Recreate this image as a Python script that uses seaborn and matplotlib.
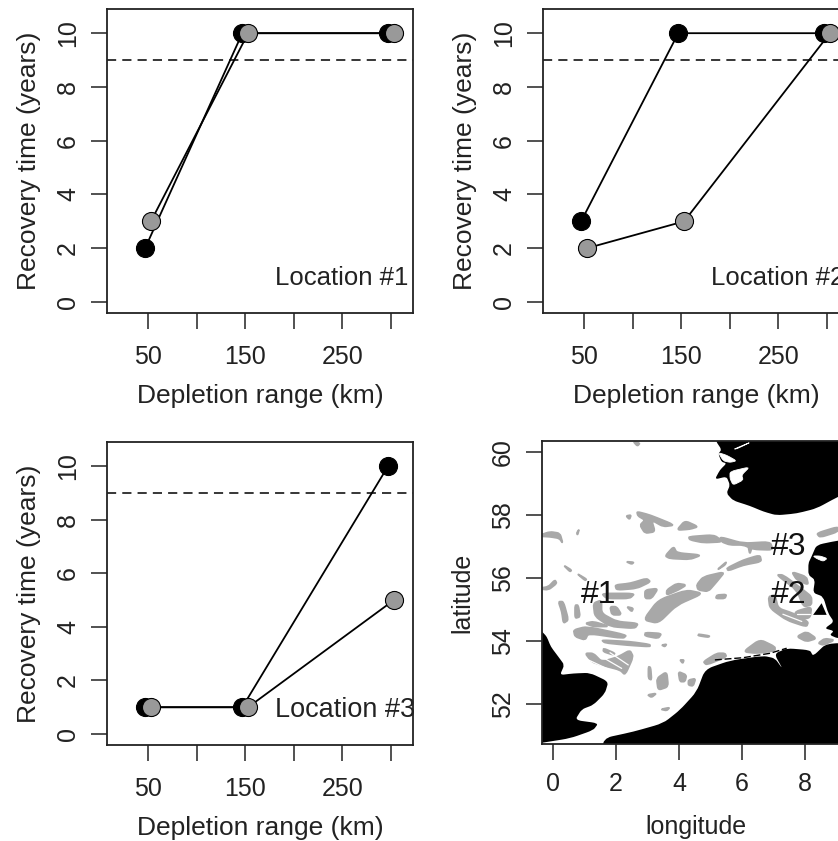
import matplotlib
matplotlib.use("Agg")
import matplotlib.pyplot as plt
from matplotlib.path import Path
from matplotlib.patches import PathPatch
import seaborn as sns

sns.set_style("white")
plt.rcParams['font.family'] = ['Liberation Sans', 'DejaVu Sans']

# recovery time per location, black = one run, grey = the other
x_black = [47, 147, 297]
x_grey = [53, 153, 303]
loc1_black = [2, 10, 10]
loc1_grey = [3, 10, 10]
loc2_black = [3, 10, 10]
loc2_grey = [2, 3, 10]
loc3_black = [1, 1, 10]
loc3_grey = [1, 1, 5]
threshold = 9
x_ticks = [50, 100, 150, 200, 250, 300]
x_tick_labels = ['50', '', '150', '', '250', '']
y_ticks = [0, 2, 4, 6, 8, 10]
lon_ticks = [0, 2, 4, 6, 8]
lat_ticks = [52, 54, 56, 58, 60]

norway = [(5.10, 61.00), (5.17, 60.35), (5.35, 60.08), (5.25, 59.94), (5.35, 59.69), (5.51, 59.64), (5.30, 59.43),
          (5.14, 59.13), (5.51, 59.22), (5.62, 58.95), (5.51, 58.69), (5.72, 58.46), (6.25, 58.29),
          (6.68, 58.11), (7.10, 57.99), (7.74, 58.05), (8.37, 58.21), (9.05, 58.58), (10.0, 59.00),
          (10.0, 61.00)]
uk = [(-1.00, 55.00), (-0.35, 54.30), (-0.20, 54.14), (-0.07, 53.82), (0.17, 53.50), (0.36, 53.24), (0.22, 52.92),
      (0.65, 52.97), (1.17, 52.99), (1.76, 52.71), (1.65, 52.34), (1.28, 51.97), (0.91, 51.83),
      (0.70, 51.49), (1.44, 51.39), (1.28, 51.17), (0.54, 50.91), (-0.35, 50.77), (-1.00, 50.66)]
continent = [(1.54, 50.00), (1.58, 50.91), (2.55, 51.12), (3.50, 51.39), (4.03, 51.81), (4.56, 52.39),
             (4.83, 53.10), (5.62, 53.38), (6.68, 53.53), (7.05, 53.45), (7.30, 53.10), (7.03, 53.59),
             (7.42, 53.77), (8.16, 53.71), (8.26, 53.52), (8.69, 53.93), (10.0, 53.93), (10.0, 50.00)]
denmark = [(8.21, 56.68), (8.37, 57.05), (9.05, 57.19), (10.0, 57.30), (10.0, 54.10), (9.05, 54.08),
           (8.79, 54.19), (8.92, 54.32), (8.63, 54.40), (8.92, 54.61), (8.74, 54.88), (8.58, 55.41),
           (8.26, 55.53), (8.32, 55.94), (8.11, 56.10), (8.11, 56.47)]
island = [(8.26, 54.83), (8.53, 55.20), (8.69, 54.83)]
land = [norway, uk, continent, denmark]

# fjords and inlets cut out of the land
inlets = [[(5.25, 59.98), (5.51, 59.90), (5.83, 59.72), (5.62, 59.67), (5.41, 59.72)],
          [(5.62, 59.38), (6.25, 59.53), (5.99, 59.27), (6.04, 59.11), (5.72, 58.95), (5.62, 59.16)],
          [(5.72, 60.08), (6.31, 60.33), (5.88, 60.12)],
          [(8.26, 56.70), (8.48, 56.70), (8.71, 56.62), (8.58, 56.53), (8.37, 56.62)]]

# sandbank patches
banks = [[(2.55, 60.33), (2.76, 60.28), (2.68, 60.19)],
         [(2.66, 58.11), (3.08, 58.00), (3.87, 57.68), (3.50, 57.63), (3.13, 57.84), (3.24, 57.47),
          (2.92, 57.42), (2.76, 57.68), (2.92, 57.84), (2.70, 57.97)],
         [(2.32, 57.97), (2.48, 58.00), (2.43, 57.86)],
         [(3.93, 57.52), (4.19, 57.82), (4.61, 57.63), (4.35, 57.55)],
         [(-0.50, 57.33), (-0.10, 57.47), (0.22, 57.42), (0.31, 57.10), (0.20, 57.26), (-0.10, 57.31)],
         [(0.75, 57.42), (0.83, 57.55), (0.78, 57.37)],
         [(4.30, 57.31), (5.11, 57.37), (5.41, 57.15), (4.78, 57.12), (4.35, 57.21)],
         [(5.30, 57.31), (6.04, 57.10), (6.89, 57.15), (6.99, 56.89), (6.36, 56.91), (6.04, 57.05),
          (5.62, 57.05), (5.35, 57.15)],
         [(3.56, 56.70), (3.83, 57.00), (3.93, 56.80), (4.72, 56.73), (4.35, 56.59), (3.71, 56.62)],
         [(2.32, 56.52), (2.57, 56.50), (2.50, 56.44)],
         [(2.87, 54.67), (3.34, 55.30), (4.24, 55.62), (4.77, 55.51), (3.93, 55.14), (3.34, 54.56)],
         [(4.56, 55.78), (4.77, 56.04), (5.46, 56.20), (5.20, 55.88), (4.93, 55.57), (4.61, 55.62)],
         [(3.61, 55.62), (3.93, 55.83), (4.24, 55.78), (3.98, 55.62), (3.61, 55.46)],
         [(2.92, 55.62), (3.34, 55.67), (3.13, 55.35), (2.92, 55.35)],
         [(5.20, 56.25), (5.51, 56.52), (5.46, 56.41)],
         [(5.51, 56.31), (6.04, 56.57), (6.57, 56.73), (6.62, 56.52), (6.04, 56.41), (5.57, 56.23)],
         [(1.97, 55.78), (2.45, 55.83), (2.97, 55.99), (3.10, 55.88), (2.66, 55.67), (2.02, 55.62)],
         [(1.54, 55.51), (2.60, 55.51), (2.44, 55.35), (1.70, 55.35)],
         [(1.28, 55.20), (1.54, 55.30), (1.54, 54.88), (2.02, 54.62), (2.71, 54.56), (2.60, 54.40),
          (1.81, 54.46), (1.33, 54.78)],
         [(1.81, 55.09), (2.02, 55.09), (2.18, 54.83), (1.87, 54.83)],
         [(1.02, 54.56), (1.28, 54.62), (1.81, 54.46), (1.28, 54.46)],
         [(0.65, 54.35), (1.07, 54.46), (2.34, 54.19), (2.23, 54.08), (1.12, 54.24), (1.02, 54.03),
          (0.70, 54.14)],
         [(1.54, 54.03), (2.44, 53.98), (3.08, 53.89), (3.08, 53.82), (2.34, 53.87), (1.65, 53.94)],
         [(2.92, 54.27), (3.45, 54.24), (3.34, 54.08), (2.92, 54.16)],
         [(1.60, 53.77), (1.97, 53.61), (1.91, 53.56), (1.60, 53.66)],
         [(1.02, 53.61), (1.28, 53.61), (1.55, 53.34), (2.07, 53.50), (2.44, 53.71), (2.55, 53.50),
          (2.29, 52.92), (2.13, 53.08), (1.55, 53.23), (1.23, 53.34)],
         [(4.61, 54.22), (4.98, 54.16), (4.93, 54.12), (4.61, 54.17)],
         [(3.45, 53.87), (3.61, 53.90), (3.55, 53.82)],
         [(0.33, 56.41), (0.59, 56.25), (0.54, 56.20)],
         [(0.75, 56.15), (1.07, 55.96), (1.02, 55.92)],
         [(-0.50, 55.67), (-0.15, 55.72), (0.06, 55.94), (0.12, 55.83), (-0.15, 55.62)],
         [(0.17, 55.25), (0.33, 55.25), (0.49, 54.67), (0.33, 54.56), (0.28, 54.93)],
         [(0.70, 55.14), (0.80, 55.14), (0.86, 54.77), (0.70, 54.72)],
         [(2.34, 55.09), (2.55, 55.04), (2.50, 54.93)],
         [(3.03, 53.19), (3.10, 53.16), (3.13, 52.76), (3.03, 52.81)],
         [(3.29, 52.81), (3.61, 53.03), (3.66, 52.55), (3.34, 52.44)],
         [(3.98, 53.03), (4.24, 52.92), (4.19, 52.71), (4.03, 52.71)],
         [(4.30, 52.76), (4.53, 52.81), (4.45, 52.57), (4.30, 52.60)],
         [(4.03, 53.40), (4.16, 53.40), (4.12, 53.29)],
         [(3.00, 52.29), (3.29, 52.34), (3.13, 52.21)],
         [(3.42, 51.83), (3.71, 51.89), (3.61, 51.79)],
         [(4.77, 53.34), (5.20, 53.61), (5.46, 53.61), (5.51, 53.50), (4.88, 53.24)],
         [(6.04, 53.66), (6.57, 54.05), (7.05, 53.82), (7.05, 53.69), (6.47, 53.61)],
         [(7.74, 54.14), (8.05, 54.30), (8.37, 54.08), (8.05, 53.98)],
         [(8.42, 53.93), (8.63, 54.08), (8.95, 54.03), (8.58, 53.87)],
         [(7.10, 56.10), (7.31, 56.10), (7.95, 55.62), (8.21, 55.41), (8.21, 55.14), (7.95, 55.09), (7.74, 55.62)],
         [(7.58, 56.20), (8.05, 56.04), (8.11, 55.78), (7.74, 55.94)],
         [(6.84, 55.41), (7.05, 55.46), (7.15, 55.04), (7.63, 54.88), (8.11, 54.61), (8.05, 54.45),
          (7.42, 54.66), (6.89, 55.04)],
         [(7.68, 54.93), (8.21, 55.09), (8.16, 54.72), (7.74, 54.72)],
         [(8.37, 57.42), (9.05, 57.63), (9.05, 57.47), (8.48, 57.29)],
         [(6.20, 57.00), (6.31, 56.95), (6.25, 56.76)],
         [(5.20, 55.46), (5.51, 55.48), (5.46, 55.35), (5.17, 55.35)]]
# white streaks between the banks
bank_gaps = [[(1.44, 53.56), (2.18, 53.13)],
             [(1.81, 53.63), (2.39, 53.24)],
             [(1.12, 53.40), (1.70, 53.13)],
             [(7.75, 54.85), (8.15, 54.85)],
             [(7.30, 54.85), (7.90, 54.62)]]
coast_dash_lon = [5.14, 6.04, 6.89, 7.42]
coast_dash_lat = [53.40, 53.47, 53.61, 53.77]
site_names = ['#1', '#2', '#3']
site_lon = [1.44, 7.47, 7.47]
site_lat = [55.46, 55.46, 56.97]

W, H = 838, 841
INK = '#222222'


def axes_px(fig, left, top, right, bottom):
    return fig.add_axes([left / W, 1 - bottom / H, (right - left) / W, (bottom - top) / H])


def style_axes(ax, xpad):
    for s in ax.spines.values():
        s.set_linewidth(1.3)
        s.set_color(INK)
    ax.tick_params(axis='both', length=11.5, width=1.1, color=INK, labelcolor=INK, labelsize=18,
                   bottom=True, left=True)
    ax.tick_params(axis='x', pad=xpad)
    ax.tick_params(axis='y', pad=8)
    for t in ax.get_yticklabels():
        t.set_rotation(90)
        t.set_va('center')


def blob(ax, poly, color, zorder, edge=0.0):
    # keep the read-off edges, round only the corners
    n = len(poly)
    verts = []
    codes = []
    for i in range(n):
        px, py = poly[i - 1]
        cx, cy = poly[i]
        nx, ny = poly[(i + 1) % n]
        start = (cx + (px - cx) * 0.3, cy + (py - cy) * 0.3)
        end = (cx + (nx - cx) * 0.3, cy + (ny - cy) * 0.3)
        verts += [start, (cx, cy), end]
        codes += [Path.MOVETO if i == 0 else Path.LINETO, Path.CURVE3, Path.CURVE3]
    verts.append(verts[0])
    codes.append(Path.LINETO)
    ax.add_patch(PathPatch(Path(verts, codes), facecolor=color, edgecolor=color, linewidth=edge,
                           joinstyle='round', zorder=zorder))


def recovery_panel(ax, black, grey, label, label_size):
    sns.lineplot(x=x_black, y=black, color='black', marker='o', markersize=13, markeredgecolor='black',
                 markeredgewidth=0.8, linewidth=1.3, ax=ax, sort=False, errorbar=None)
    sns.lineplot(x=x_grey, y=grey, color='black', marker='o', markersize=13, markerfacecolor='#999999',
                 markeredgecolor='black', markeredgewidth=0.8, linewidth=1.3, ax=ax, sort=False, errorbar=None)
    ax.axhline(threshold, color='black', linestyle=(0, (6, 4)), linewidth=1.1)
    ax.set_xlim(7.8, 322.6)
    ax.set_ylim(-0.41, 10.9)
    ax.set_xticks(x_ticks)
    ax.set_xticklabels(x_tick_labels)
    ax.set_yticks(y_ticks)
    ax.set_xlabel('Depletion range (km)', fontsize=19, color=INK, labelpad=11)
    ax.set_ylabel('Recovery time (years)', fontsize=19, color=INK, labelpad=11)
    ax.text(180.5, 0.88, label, fontsize=label_size, color=INK, ha='left', va='center')
    style_axes(ax, 11.5)


fig = plt.figure(figsize=(W / 100, H / 100), dpi=100)

ax1 = axes_px(fig, 107, 9, 413, 313)
recovery_panel(ax1, loc1_black, loc1_grey, 'Location #1', 18.5)

ax2 = axes_px(fig, 543, 9, 849, 313)
recovery_panel(ax2, loc2_black, loc2_grey, 'Location #2', 18.5)

ax3 = axes_px(fig, 107, 442, 413, 745)
recovery_panel(ax3, loc3_black, loc3_grey, 'Location #3', 19.5)

ax4 = axes_px(fig, 542, 441, 849, 744)
for poly in banks:
    blob(ax4, poly, '#a8a8a8', 1, edge=1.3)
for gap in bank_gaps:
    ax4.plot(*zip(*gap), color='white', linewidth=0.9, zorder=1.5)
for poly in land:
    blob(ax4, poly, 'black', 2)
ax4.fill(*zip(*island), color='black', linewidth=0, zorder=2)
for poly in inlets:
    blob(ax4, poly, 'white', 3, edge=0.6)
ax4.plot(coast_dash_lon, coast_dash_lat, color='black', linestyle=(0, (5, 2)), linewidth=1.0, zorder=3)
for name, lon, lat in zip(site_names, site_lon, site_lat):
    ax4.text(lon, lat, name, fontsize=23, color='#111111', ha='center', va='center', zorder=4)
ax4.set_xlim(-0.35, 9.40)
ax4.set_ylim(50.73, 60.35)
ax4.set_xticks(lon_ticks)
ax4.set_yticks(lat_ticks)
ax4.set_xlabel('longitude', fontsize=18, color=INK, labelpad=13)
ax4.set_ylabel('latitude', fontsize=18, color=INK, labelpad=12)
style_axes(ax4, 9)

fig.savefig('out.png', dpi=100)
